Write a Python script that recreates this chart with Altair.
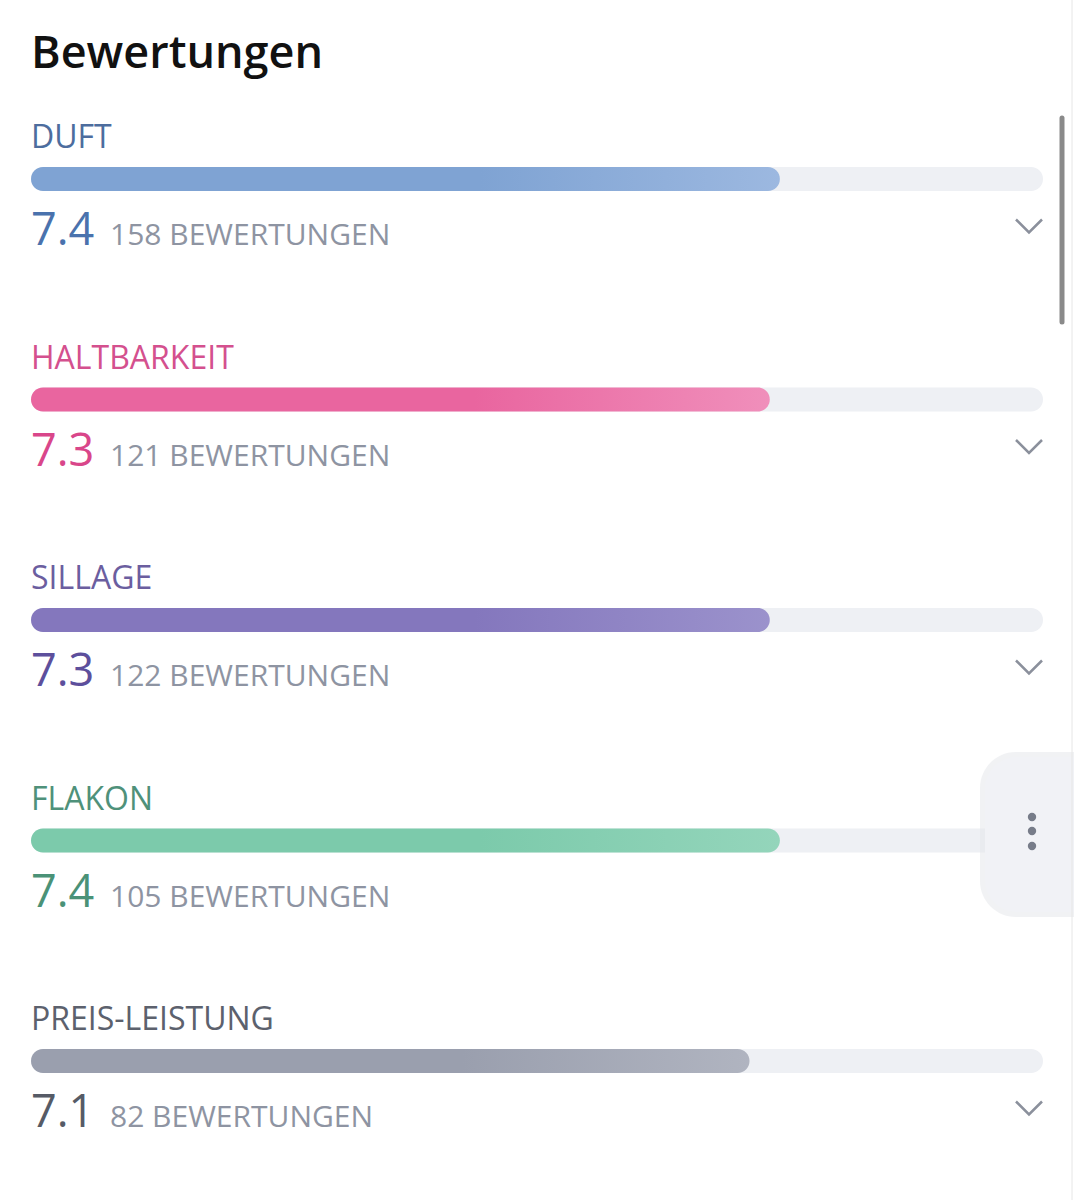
import altair as alt
import pandas as pd

# ---- data ----
categories = ["DUFT", "HALTBARKEIT", "SILLAGE", "FLAKON", "PREIS-LEISTUNG"]
scores = [7.4, 7.3, 7.3, 7.4, 7.1]
counts = [158, 121, 122, 105, 82]
label_colors = ["#4d6d9e", "#d4508e", "#6b5e9f", "#4f917a", "#5c616d"]
value_colors = ["#4a72ad", "#d9468a", "#5d4f9c", "#4a9277", "#565b66"]
bar_start = ["#7fa3d3", "#e9659f", "#8477bd", "#7ccaab", "#9a9fae"]
bar_end = ["#9cb8e0", "#f08fbb", "#9b92cc", "#94d5bb", "#b0b4c0"]
has_chevron = [True, True, True, False, True]
scale_max = 10

rows = list(range(len(categories)))
df = pd.DataFrame({
    "row": rows,
    "cat": categories,
    "score": scores,
    "count": counts,
    "max": [scale_max] * len(categories),
    "lcolor": label_colors,
    "vcolor": value_colors,
    "chev": has_chevron,
})

FONT = "Open Sans"
xs = alt.Scale(domain=[0, scale_max], range=[31, 1043], padding=0, nice=False, zero=False)
ys = alt.Scale(domain=[0, len(categories) - 1], range=[179, 1061], padding=0, nice=False, zero=False)
ROW_PX = (1061 - 179) / (len(categories) - 1)

base = alt.Chart(df)

track = base.mark_bar(color="#eef0f4", cornerRadius=12, height=24).encode(
    x=alt.X("max:Q", scale=xs, axis=None),
    x2=alt.datum(0),
    y=alt.Y("row:Q", scale=ys, axis=None),
)

bar_layers = []
for i in rows:
    grad = alt.Gradient(
        gradient="linear",
        stops=[
            alt.GradientStop(color=bar_start[i], offset=0),
            alt.GradientStop(color=bar_start[i], offset=0.6),
            alt.GradientStop(color=bar_end[i], offset=1),
        ],
        x1=0, x2=1, y1=0, y2=0,
    )
    bar_layers.append(
        alt.Chart(df.iloc[[i]]).mark_bar(color=grad, cornerRadius=12, height=24).encode(
            x=alt.X("score:Q", scale=xs, axis=None),
            x2=alt.datum(0),
            y=alt.Y("row:Q", scale=ys, axis=None),
        )
    )

labels = base.mark_text(
    font=FONT, fontSize=32, align="left", baseline="alphabetic", dy=-31
).encode(
    x=alt.datum(0, scale=xs),
    y=alt.Y("row:Q", scale=ys, axis=None),
    text="cat:N",
    color=alt.Color("lcolor:N", scale=None),
)

values = base.mark_text(
    font=FONT, fontSize=45, fontWeight=500, align="left", baseline="alphabetic", dy=66
).encode(
    x=alt.datum(0, scale=xs),
    y=alt.Y("row:Q", scale=ys, axis=None),
    text=alt.Text("score:Q", format=".1f"),
    color=alt.Color("vcolor:N", scale=None),
)

count_text = base.transform_calculate(
    ctext="datum.count + ' BEWERTUNGEN'"
).mark_text(
    font=FONT, fontSize=30, align="left", baseline="alphabetic", dy=66, color="#8e94a2"
).encode(
    x=alt.value(110),
    y=alt.Y("row:Q", scale=ys, axis=None),
    text="ctext:N",
)

chevrons = base.transform_filter("datum.chev").transform_calculate(
    cy=f"datum.row + {47 / ROW_PX}"
).mark_point(
    shape="M-1,-0.5L0,0.5L1,-0.5", size=676, filled=False,
    stroke="#8b909c", strokeWidth=2.5, opacity=1,
).encode(
    x=alt.value(1029),
    y=alt.Y("cy:Q", scale=ys, axis=None),
)

title = alt.Chart(pd.DataFrame({"t": ["Bewertungen"]})).mark_text(
    font=FONT, fontSize=45, fontWeight=600, align="left", baseline="alphabetic",
    color="#111111",
).encode(x=alt.value(31), y=alt.value(68), text="t:N")

# floating menu button
btn_df = pd.DataFrame({"k": [0]})
btn_shadow = alt.Chart(btn_df).mark_rect(
    cornerRadius=36, color="#e3e5ea", opacity=0.5
).encode(x=alt.value(980), x2=alt.value(1110), y=alt.value(752), y2=alt.value(917))
btn = alt.Chart(btn_df).mark_rect(
    cornerRadius=32, color="#f1f2f6"
).encode(x=alt.value(985), x2=alt.value(1110), y=alt.value(757), y2=alt.value(912))
dots = alt.Chart(pd.DataFrame({"d": [817, 831, 846]})).mark_circle(
    size=70, color="#777c89", opacity=1
).encode(x=alt.value(1032), y=alt.Y("d:Q", scale=alt.Scale(domain=[0, 1200], range=[0, 1200]), axis=None))

scroll = alt.Chart(btn_df).mark_rule(
    color="#8a8a8a", strokeWidth=5, strokeCap="round"
).encode(x=alt.value(1062), y=alt.value(118), y2=alt.value(322))
edge = alt.Chart(btn_df).mark_rule(color="#e6e6e6", strokeWidth=1).encode(
    x=alt.value(1072), y=alt.value(0), y2=alt.value(1200)
)

chart = alt.layer(
    track, *bar_layers, labels, values, count_text, chevrons, title,
    btn_shadow, btn, dots, scroll, edge,
).resolve_scale(y="independent").properties(
    width=1074, height=1200, padding=0, autosize=alt.AutoSizeParams(type="none"),
    background="#ffffff",
).configure_view(stroke=None)

chart.save("out.html", embed_options={"renderer": "svg", "actions": False})
